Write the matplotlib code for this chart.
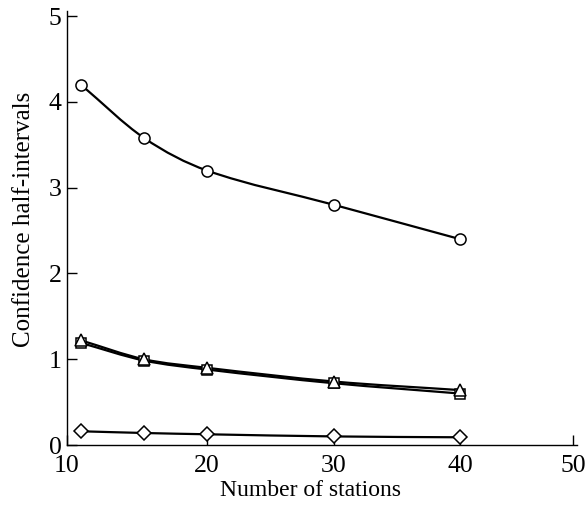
import numpy as np
import matplotlib
matplotlib.use("Agg")
import matplotlib.pyplot as plt
from matplotlib.path import Path
from matplotlib.patches import PathPatch

# ---- data ----
stations = [11, 15.5, 20, 30, 40]
circles = [4.2, 3.58, 3.2, 2.8, 2.4]
triangles = [1.22, 1.0, 0.9, 0.74, 0.64]
squares = [1.19, 0.985, 0.88, 0.72, 0.60]
diamonds = [0.16, 0.14, 0.125, 0.10, 0.09]
x_ticks = [10, 20, 30, 40, 50]
y_ticks = [0, 1, 2, 3, 4, 5]
x_label = "Number of stations"
y_label = "Confidence half-intervals"

# ---- irregularly spaced x axis of the original drawing ----
_cal_v = np.array([0, 10, 20, 30, 40, 50, 60], float)
_cal_p = np.array([-73, 67, 207, 334, 460, 573, 686], float)


def fwd(v):
    return np.interp(v, _cal_v, _cal_p)


def inv(p):
    return np.interp(p, _cal_p, _cal_v)


plt.rcParams['font.family'] = ['Liberation Serif', 'DejaVu Serif']

fig = plt.figure(figsize=(5.86, 5.08), dpi=100)
W, H = 586, 508
ax = fig.add_axes([67 / W, 1 - 445 / H, (577 - 67) / W, (445 - 11) / H])
ax.set_xscale('function', functions=(fwd, inv))


def smooth_path(xs, ys):
    # cubic Hermite curve (finite-difference slopes) in the scaled x space
    X = fwd(np.asarray(xs, float))
    Y = np.asarray(ys, float)
    n = len(X)
    m = np.empty(n)
    m[0] = (Y[1] - Y[0]) / (X[1] - X[0])
    m[-1] = (Y[-1] - Y[-2]) / (X[-1] - X[-2])
    for i in range(1, n - 1):
        m[i] = (Y[i + 1] - Y[i - 1]) / (X[i + 1] - X[i - 1])
    verts = [(X[0], Y[0])]
    codes = [Path.MOVETO]
    for i in range(n - 1):
        h = X[i + 1] - X[i]
        verts += [(X[i] + h / 3, Y[i] + m[i] * h / 3),
                  (X[i + 1] - h / 3, Y[i + 1] - m[i + 1] * h / 3),
                  (X[i + 1], Y[i + 1])]
        codes += [Path.CURVE4] * 3
    v = np.array(verts)
    v[:, 0] = inv(v[:, 0])
    return Path(v, codes)


for ys in (circles, squares, triangles, diamonds):
    ax.add_patch(PathPatch(smooth_path(stations, ys), facecolor='none',
                           edgecolor='black', lw=1.6, zorder=2))

mk = dict(ls='none', mfc='white', mec='black', mew=1.1, zorder=3)
ax.plot(stations, circles, marker='o', ms=8, **mk)
ax.plot(stations, squares, marker='s', ms=7, **mk)
ax.plot(stations, triangles, marker='^', ms=9, **mk)
ax.plot(stations, diamonds, marker='D', ms=7, **mk)

ax.set_xlim(10, 50.35)
ax.set_ylim(0, 5.06)
ax.set_xticks(x_ticks)
ax.set_yticks(y_ticks)
ax.set_xticklabels([str(t) for t in x_ticks])
ax.set_yticklabels([str(t) for t in y_ticks])
ax.tick_params(direction='in', length=7, width=1, labelsize=18.5)
ax.tick_params(axis='x', pad=7)
ax.tick_params(axis='y', pad=4)
for s in ('top', 'right'):
    ax.spines[s].set_visible(False)
for s in ('left', 'bottom'):
    ax.spines[s].set_linewidth(1.0)

ax.set_xlabel(x_label, fontsize=17)
ax.xaxis.set_label_coords(0.478, -0.08)
ax.set_ylabel(y_label, fontsize=18)
ax.yaxis.set_label_coords(-0.062, 0.52)

fig.savefig('out.png', dpi=100)
